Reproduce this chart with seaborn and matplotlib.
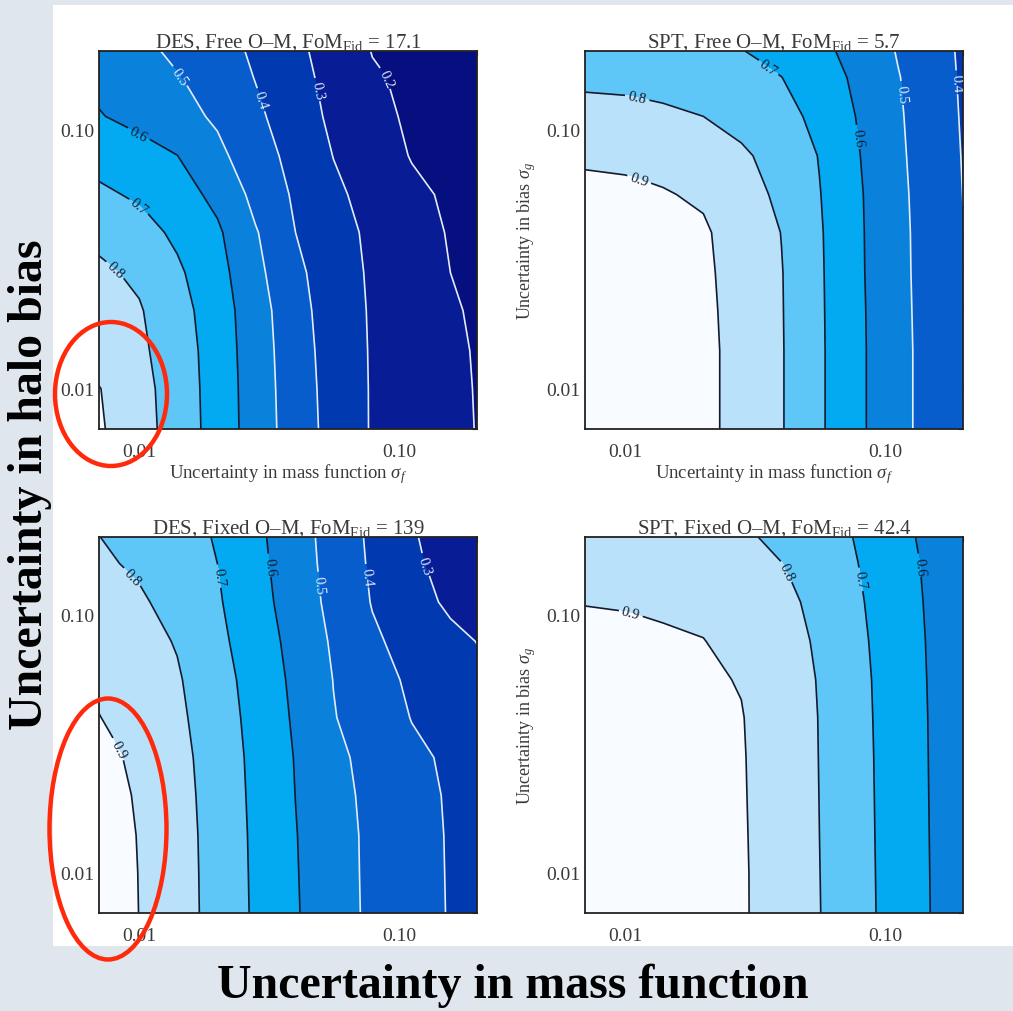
import matplotlib
matplotlib.use("Agg")
import matplotlib.pyplot as plt
import matplotlib.ticker as mticker
from matplotlib.patches import Ellipse, Rectangle
import seaborn as sns

# grid nodes, same for both uncertainties
sigma_f = [0.007, 0.010, 0.014, 0.020, 0.028, 0.040, 0.056, 0.079, 0.112, 0.158, 0.200]
sigma_g = [0.007, 0.010, 0.014, 0.020, 0.028, 0.040, 0.056, 0.079, 0.112, 0.158, 0.200]

# FoM / FoM_fid, rows = sigma_g (low -> high), cols = sigma_f (low -> high)
des_free = [
    [0.910, 0.836, 0.753, 0.656, 0.550, 0.448, 0.363, 0.292, 0.253, 0.215, 0.198],
    [0.903, 0.831, 0.750, 0.654, 0.548, 0.444, 0.360, 0.292, 0.253, 0.213, 0.197],
    [0.860, 0.817, 0.746, 0.650, 0.545, 0.439, 0.356, 0.291, 0.251, 0.212, 0.195],
    [0.837, 0.807, 0.734, 0.644, 0.540, 0.431, 0.351, 0.289, 0.248, 0.208, 0.190],
    [0.814, 0.782, 0.714, 0.631, 0.523, 0.419, 0.345, 0.285, 0.242, 0.200, 0.190],
    [0.777, 0.732, 0.681, 0.613, 0.507, 0.400, 0.335, 0.279, 0.233, 0.193, 0.180],
    [0.717, 0.684, 0.637, 0.574, 0.470, 0.384, 0.317, 0.265, 0.218, 0.185, 0.175],
    [0.660, 0.630, 0.601, 0.521, 0.441, 0.366, 0.298, 0.244, 0.195, 0.175, 0.165],
    [0.605, 0.569, 0.530, 0.485, 0.417, 0.345, 0.279, 0.224, 0.185, 0.165, 0.155],
    [0.575, 0.545, 0.504, 0.451, 0.397, 0.329, 0.267, 0.209, 0.180, 0.160, 0.150],
    [0.550, 0.520, 0.482, 0.436, 0.384, 0.319, 0.258, 0.197, 0.170, 0.150, 0.140],
]
spt_free = [
    [0.938, 0.935, 0.929, 0.916, 0.875, 0.805, 0.712, 0.616, 0.526, 0.452, 0.407],
    [0.938, 0.935, 0.929, 0.916, 0.875, 0.805, 0.712, 0.616, 0.526, 0.452, 0.407],
    [0.937, 0.935, 0.929, 0.916, 0.875, 0.805, 0.712, 0.616, 0.526, 0.452, 0.406],
    [0.935, 0.933, 0.927, 0.914, 0.873, 0.804, 0.711, 0.615, 0.524, 0.451, 0.405],
    [0.930, 0.928, 0.922, 0.912, 0.869, 0.803, 0.710, 0.613, 0.522, 0.450, 0.404],
    [0.925, 0.922, 0.915, 0.910, 0.857, 0.798, 0.708, 0.612, 0.521, 0.449, 0.402],
    [0.915, 0.912, 0.905, 0.888, 0.832, 0.782, 0.703, 0.610, 0.519, 0.445, 0.399],
    [0.890, 0.886, 0.873, 0.845, 0.815, 0.756, 0.696, 0.604, 0.515, 0.440, 0.396],
    [0.828, 0.825, 0.815, 0.800, 0.763, 0.726, 0.676, 0.593, 0.511, 0.433, 0.393],
    [0.780, 0.775, 0.765, 0.750, 0.730, 0.701, 0.643, 0.579, 0.505, 0.428, 0.390],
    [0.765, 0.755, 0.742, 0.725, 0.703, 0.664, 0.621, 0.565, 0.494, 0.424, 0.388],
]
des_fixed = [
    [0.948, 0.899, 0.836, 0.765, 0.685, 0.607, 0.538, 0.480, 0.435, 0.394, 0.384],
    [0.945, 0.898, 0.835, 0.764, 0.683, 0.605, 0.536, 0.479, 0.434, 0.393, 0.383],
    [0.940, 0.896, 0.834, 0.762, 0.681, 0.603, 0.535, 0.478, 0.433, 0.392, 0.382],
    [0.935, 0.890, 0.830, 0.759, 0.677, 0.599, 0.530, 0.473, 0.427, 0.390, 0.380],
    [0.925, 0.879, 0.825, 0.755, 0.673, 0.595, 0.522, 0.465, 0.417, 0.385, 0.370],
    [0.902, 0.858, 0.816, 0.747, 0.665, 0.586, 0.504, 0.450, 0.397, 0.360, 0.345],
    [0.880, 0.843, 0.808, 0.737, 0.657, 0.578, 0.498, 0.434, 0.383, 0.345, 0.320],
    [0.858, 0.827, 0.794, 0.721, 0.646, 0.567, 0.486, 0.413, 0.365, 0.323, 0.298],
    [0.836, 0.811, 0.767, 0.709, 0.634, 0.552, 0.470, 0.395, 0.338, 0.280, 0.265],
    [0.813, 0.785, 0.743, 0.700, 0.625, 0.543, 0.462, 0.385, 0.318, 0.255, 0.240],
    [0.801, 0.765, 0.731, 0.693, 0.620, 0.539, 0.458, 0.380, 0.309, 0.250, 0.232],
]
spt_fixed = [
    [0.937, 0.935, 0.930, 0.922, 0.908, 0.860, 0.802, 0.729, 0.658, 0.587, 0.573],
    [0.937, 0.935, 0.930, 0.922, 0.908, 0.859, 0.801, 0.728, 0.657, 0.586, 0.572],
    [0.936, 0.934, 0.929, 0.921, 0.907, 0.858, 0.800, 0.727, 0.656, 0.585, 0.571],
    [0.935, 0.933, 0.928, 0.920, 0.906, 0.856, 0.799, 0.726, 0.655, 0.584, 0.570],
    [0.933, 0.931, 0.926, 0.918, 0.905, 0.855, 0.798, 0.725, 0.654, 0.583, 0.569],
    [0.930, 0.928, 0.923, 0.915, 0.903, 0.853, 0.797, 0.723, 0.653, 0.582, 0.568],
    [0.925, 0.923, 0.918, 0.910, 0.896, 0.846, 0.794, 0.721, 0.651, 0.580, 0.567],
    [0.915, 0.913, 0.908, 0.902, 0.868, 0.831, 0.788, 0.716, 0.647, 0.578, 0.565],
    [0.898, 0.895, 0.889, 0.875, 0.853, 0.822, 0.774, 0.709, 0.642, 0.574, 0.560],
    [0.875, 0.872, 0.866, 0.855, 0.835, 0.801, 0.751, 0.700, 0.635, 0.569, 0.555],
    [0.860, 0.857, 0.850, 0.838, 0.815, 0.775, 0.735, 0.693, 0.628, 0.561, 0.550],
]

surveys = ["DES", "SPT", "DES", "SPT"]
priors = ["Free", "Free", "Fixed", "Fixed"]
fom_fid = ["17.1", "5.7", "139", "42.4"]
grids = [des_free, spt_free, des_fixed, spt_fixed]

# where the contour labels sit in each panel (sigma_f, sigma_g)
label_spots = [
    [(0.0148, 0.163), (0.0305, 0.131), (0.0476, 0.141), (0.0848, 0.154),
     (0.0102, 0.102), (0.0104, 0.053), (0.0084, 0.030)],
    [(0.0114, 0.066), (0.0111, 0.133), (0.0365, 0.179), (0.0787, 0.093),
     (0.114, 0.137), (0.180, 0.150)],
    [(0.0083, 0.030), (0.0096, 0.143), (0.0208, 0.141), (0.0319, 0.154),
     (0.049, 0.131), (0.0753, 0.141), (0.124, 0.154)],
    [(0.0105, 0.104), (0.041, 0.145), (0.082, 0.137), (0.136, 0.154)],
]

fill_levels = [0.0, 0.2, 0.3, 0.4, 0.5, 0.6, 0.7, 0.8, 0.9, 1.0]
band_colors = sns.color_palette([
    "#050f80", "#081c96", "#0039b0", "#075dcc", "#0a82dc",
    "#03a9f1", "#5fc6f8", "#b9e2fa", "#f8fbff",
])
line_levels = [0.2, 0.3, 0.4, 0.5, 0.6, 0.7, 0.8, 0.9]
line_colors = ["#e4ecf6"] * 4 + ["#141a2e"] * 4

sns.set_theme(style="white")
plt.rcParams["font.family"] = ["Liberation Serif", "DejaVu Serif"]
plt.rcParams["mathtext.fontset"] = "custom"
plt.rcParams["mathtext.rm"] = "Liberation Serif"
plt.rcParams["mathtext.it"] = "Liberation Serif:italic"

W, H = 1013, 1012
fig = plt.figure(figsize=(W / 100, H / 100), dpi=100)
fig.patch.set_facecolor("#dfe6ee")

# white slide area behind the four panels
fig.add_artist(Rectangle((53 / W, 1 - 947 / H), 1 - 53 / W, (947 - 6) / H,
                         transform=fig.transFigure, facecolor="white",
                         edgecolor="none", zorder=-1))

boxes = [(99, 52, 378, 378), (585, 52, 378, 378),
         (99, 538, 378, 376), (585, 538, 378, 376)]
text_col = "#3a3a3a"

for i, (x0, y0, w, h) in enumerate(boxes):
    ax = fig.add_axes([x0 / W, 1 - (y0 + h) / H, w / W, h / H])
    ax.set_xscale("log")
    ax.set_yscale("log")
    ax.set_xlim(0.007, 0.2)
    ax.set_ylim(0.007, 0.2)
    ax.contourf(sigma_f, sigma_g, grids[i], levels=fill_levels, colors=band_colors)
    cs = ax.contour(sigma_f, sigma_g, grids[i], levels=line_levels,
                    colors=line_colors, linewidths=1.2)
    ax.clabel(cs, fmt="%.1f", fontsize=10.5, inline=True, inline_spacing=3,
              manual=label_spots[i])
    for axis in (ax.xaxis, ax.yaxis):
        axis.set_major_locator(mticker.FixedLocator([0.01, 0.1]))
        axis.set_major_formatter(mticker.FixedFormatter(["0.01", "0.10"]))
        axis.set_minor_locator(mticker.LogLocator(base=10, subs=range(2, 10)))
        axis.set_minor_formatter(mticker.NullFormatter())
    ax.tick_params(which="both", direction="in", top=True, right=True,
                   color="#222222", labelsize=14, labelcolor=text_col)
    ax.tick_params(which="major", length=7, width=1.0)
    ax.tick_params(which="minor", length=3.5, width=0.8)
    ax.tick_params(axis="x", pad=10)
    ax.tick_params(axis="y", pad=3)
    for s in ax.spines.values():
        s.set_color("#222222")
        s.set_linewidth(1.3)
    ax.set_title(f"{surveys[i]}, {priors[i]} O\u2013M, FoM$_{{\\rm Fid}}$ = {fom_fid[i]}",
                 fontsize=15, color=text_col, pad=3)
    if i < 2:
        ax.set_xlabel("Uncertainty in mass function $\\sigma_f$", fontsize=13.5,
                      color=text_col, labelpad=1)
    if i % 2 == 1:
        ax.set_ylabel("Uncertainty in bias $\\sigma_g$", fontsize=13,
                      color=text_col, labelpad=6)

# slide annotations
fig.text(30 / W, 1 - 485 / H, "Uncertainty in halo bias", rotation=90,
         fontsize=34.5, fontweight="bold", color="black", ha="center", va="center")
fig.text(513 / W, 1 - 986 / H, "Uncertainty in mass function",
         fontsize=34.5, fontweight="bold", color="black", ha="center", va="center")

for cx, cy, ew, eh in [(111, 395, 112, 144), (108, 830, 117, 261)]:
    fig.add_artist(Ellipse((cx / W, 1 - cy / H), ew / W, eh / H,
                           transform=fig.transFigure, fill=False,
                           edgecolor="#ff2a0c", linewidth=3.2, zorder=5))

fig.savefig("out.png", dpi=100, facecolor=fig.get_facecolor())
